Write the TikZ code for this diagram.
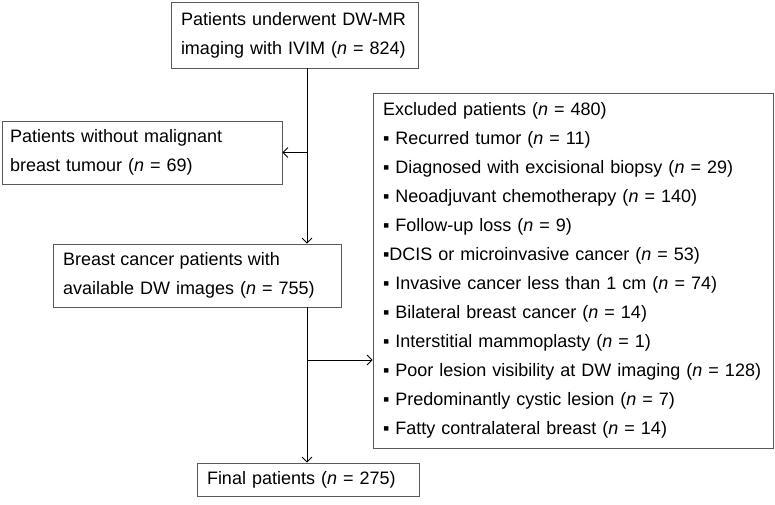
\documentclass[tikz,border=0pt]{standalone}
\usepackage{fontspec}
\setmainfont{Liberation Sans}
\usetikzlibrary{arrows.meta}
\begin{document}
\begin{tikzpicture}[x=1pt,y=-1pt,
  box/.style={draw=black!65, line width=0.8pt, align=left, inner ysep=0pt,
    font=\fontsize{18}{29}\selectfont, text=black},
  conn/.style={draw=black, line width=0.8pt},
  arr/.style={conn, -{Straight Barb[length=5pt,width=10pt]}}]
\useasboundingbox (0,0) rectangle (775,505);
\node[box, minimum width=247pt, minimum height=66pt, text width=227pt, inner xsep=10pt] (a) at (294.5,35)
  {\hbox to 225pt{Patients\hfill underwent\hfill DW-MR}\\imaging with IVIM (\textit{n} = 824)};
\node[box, minimum width=280pt, minimum height=63pt, text width=264pt, inner xsep=8pt] (b) at (142,152.5)
  {Patients without malignant\\breast tumour (\textit{n} = 69)};
\node[box, minimum width=288pt, minimum height=63pt, text width=268pt, inner xsep=10pt] (c) at (197,275.5)
  {\hbox to 217pt{Breast\hfill cancer\hfill patients\hfill with}\\available DW images (\textit{n} = 755)};
\node[box, minimum width=400pt, minimum height=355pt, text width=380pt, inner xsep=10pt] (e) at (573,270.5)
  {\spaceskip=6pt plus 1pt minus 1pt
   Excluded patients (\textit{n} = 480)\\
   ▪ Recurred tumor (\textit{n} = 11)\\
   ▪ Diagnosed with excisional biopsy (\textit{n} = 29)\\
   ▪ Neoadjuvant chemotherapy (\textit{n} = 140)\\
   ▪ Follow-up loss (\textit{n} = 9)\\
   ▪DCIS or microinvasive cancer (\textit{n} = 53)\\
   ▪ Invasive cancer less than 1 cm (\textit{n} = 74)\\
   ▪ Bilateral breast cancer (\textit{n} = 14)\\
   ▪ Interstitial mammoplasty (\textit{n} = 1)\\
   ▪ Poor lesion visibility at DW imaging (\textit{n} = 128)\\
   ▪ Predominantly cystic lesion (\textit{n} = 7)\\
   ▪ Fatty contralateral breast (\textit{n} = 14)};
\node[box, minimum width=222pt, minimum height=33pt, text width=202pt, inner xsep=10pt] (f) at (308,479.5)
  {Final patients (\textit{n} = 275)};
\coordinate (s1) at (307,68);
\coordinate (s2) at (307,307);
\coordinate (j2) at (307,360);
\draw[arr] (s1) -- (s1 |- c.north);
\draw[arr] (s1 |- b.east) -- (b.east);
\draw[arr] (s2) -- (s2 |- f.north);
\draw[arr] (j2) -- (j2 -| e.west);
\end{tikzpicture}
\end{document}
